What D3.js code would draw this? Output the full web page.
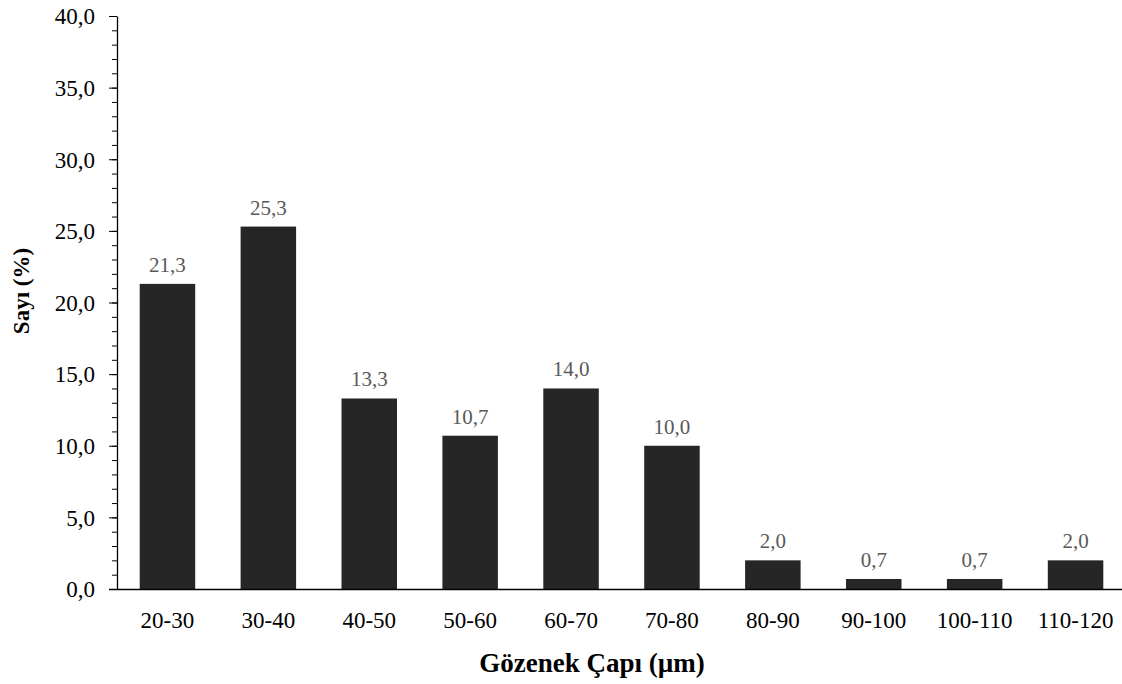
<!DOCTYPE html>
<html>
<head>
<meta charset="utf-8">
<script src="https://cdn.jsdelivr.net/npm/d3@7"></script>
<style>
  html, body { margin: 0; padding: 0; background: #fff; }
  svg { display: block; }
  svg text { font-family: "Liberation Serif", "Times New Roman", "DejaVu Serif", serif; }
</style>
</head>
<body>
<svg id="chart" width="1122" height="684"></svg>
<script>
// Pore diameter classes (µm) and share of pores in each class (%)
const categories = ["20-30", "30-40", "40-50", "50-60", "60-70", "70-80", "80-90", "90-100", "100-110", "110-120"];
const values = [21.3, 25.3, 13.3, 10.7, 14.0, 10.0, 2.0, 0.7, 0.7, 2.0];
const yTicks = [0, 5, 10, 15, 20, 25, 30, 35, 40];
const yMinorTicks = d3.range(0, 41, 1);
const xTitle = "Gözenek Çapı (µm)";
const yTitle = "Sayı (%)";

(function draw() {
  const svg = d3.select("#chart");
  const plotLeft = 117, plotRight = 1126, plotTop = 16, plotBottom = 589;

  const fmt = v => v.toFixed(1).replace(".", ",");

  const x = d3.scaleBand().domain(categories).range([plotLeft, plotRight]).paddingInner(0.45).paddingOuter(0.225);
  const y = d3.scaleLinear().domain([0, 40]).range([plotBottom, plotTop]);

  // bars
  svg.append("g").selectAll("rect").data(values).join("rect")
    .attr("x", (d, i) => x(categories[i]))
    .attr("y", d => y(d))
    .attr("width", x.bandwidth())
    .attr("height", d => y(0) - y(d))
    .attr("fill", "#262626");

  // value labels
  svg.append("g").selectAll("text").data(values).join("text")
    .attr("x", (d, i) => x(categories[i]) + x.bandwidth() / 2)
    .attr("y", d => y(d) - 12)
    .attr("text-anchor", "middle")
    .style("font-size", "21px")
    .attr("fill", "#595959")
    .text(d => fmt(d));

  // y axis: minor ticks
  const yMinor = svg.append("g").attr("transform", `translate(${plotLeft},0)`)
    .call(d3.axisLeft(y).tickValues(yMinorTicks).tickSize(5).tickFormat(""));
  yMinor.select(".domain").remove();
  yMinor.selectAll("line").attr("stroke", "#000");

  // y axis: major ticks and labels
  const yAxis = svg.append("g").attr("transform", `translate(${plotLeft},0)`)
    .call(d3.axisLeft(y).tickValues(yTicks).tickSize(8).tickPadding(14).tickFormat(fmt).tickSizeOuter(0));
  yAxis.select(".domain").attr("stroke", "#000").attr("stroke-width", 1.3);
  yAxis.selectAll("line").attr("stroke", "#000");
  yAxis.selectAll("text").style("font-size", "23px").attr("fill", "#000").attr("dy", "0.34em");

  // x axis
  const xAxis = svg.append("g").attr("transform", `translate(0,${plotBottom})`)
    .call(d3.axisBottom(x).tickSize(0).tickPadding(22).tickSizeOuter(0));
  xAxis.select(".domain").attr("stroke", "#000").attr("stroke-width", 1.3)
    .attr("d", `M${plotLeft - 8},0.5H1122`);
  xAxis.selectAll("text").style("font-size", "23px").attr("fill", "#000")
    .attr("y", 39).attr("dy", null);

  // axis titles
  svg.append("text")
    .attr("x", 592).attr("y", 672)
    .attr("text-anchor", "middle")
    .style("font-size", "27px").attr("font-weight", "bold")
    .text(xTitle);

  svg.append("text")
    .attr("transform", "translate(29,291) rotate(-90)")
    .attr("text-anchor", "middle")
    .style("font-size", "23px").attr("font-weight", "bold")
    .text(yTitle);
})();
</script>
</body>
</html>
